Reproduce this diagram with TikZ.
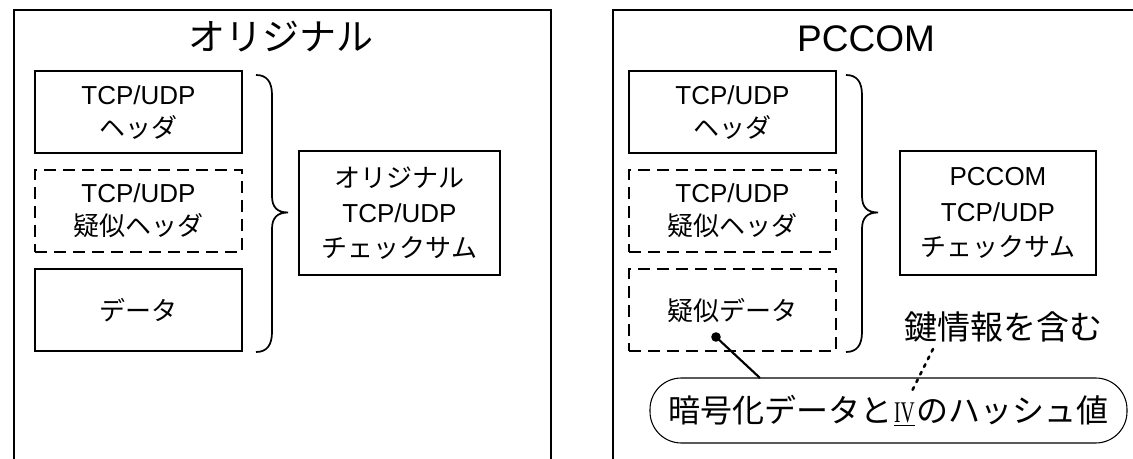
\documentclass[tikz,border=0pt]{standalone}
\usepackage{fontspec}
\setmainfont{Liberation Sans}
\newfontfamily\jp{Noto Sans CJK JP}
\newfontfamily\ivfont{Liberation Serif}
\begin{document}
\begin{tikzpicture}[x=0.75pt,y=-0.75pt,
  panel/.style={line width=1.1pt},
  partbox/.style={draw,line width=1.5pt,minimum width=155.25pt,minimum height=61.5pt,inner sep=0pt,align=center,
     font=\fontsize{19.5pt}{24.75pt}\selectfont},
  dashbox/.style={partbox,dash pattern=on 9pt off 5.25pt},
  sumbox/.style={draw,line width=1.3pt,minimum height=93pt,inner sep=0pt,align=center,
     font=\fontsize{19.5pt}{26.5pt}\selectfont},
  titletext/.style={inner sep=0pt,font=\fontsize{27.75pt}{30pt}\selectfont},
  bracepath/.style={line width=1.3pt},
  bubble/.style={draw,line width=0.8pt,rounded corners=23.5pt,minimum width=357.75pt,minimum height=48.75pt,inner sep=0pt,
     font=\fontsize{24pt}{28pt}\selectfont},
  keytext/.style={inner sep=0pt,font=\fontsize{24.75pt}{28pt}\selectfont\jp}
]
\useasboundingbox (0,0) rectangle (1133,459);
\fill[white] (0,0) rectangle (1133,459);
\clip (0,0) rectangle (1133,459);

% panels
\draw[panel] (14,480) -- (14,10) -- (551,10) -- (551,480);
\draw[panel] (613,480) -- (613,10) -- (1160,10);

% titles
\node[titletext] (t1) at (281,37) {\jp オリジナル};
\node[titletext] (t2) at (866,39) {PCCOM};

% left panel
\node[partbox] (lh) at (138.5,112.5) {TCP/UDP\\{\jp ヘッダ}};
\node[dashbox] (lp) at (138.5,211) {TCP/UDP\\{\jp 疑似ヘッダ}};
\node[partbox] (ld) at (138.5,310.5) {\jp データ};
\node[sumbox,minimum width=150.75pt] (ls) at (399.5,213) {{\jp オリジナル}\\TCP/UDP\\{\jp チェックサム}};
\draw[bracepath] (256,75) .. controls (267,75) and (272,82) .. (272,95) -- (272,196)
   .. controls (272,207) and (277,212.5) .. (288,212.5)
   .. controls (277,212.5) and (272,218) .. (272,229) -- (272,332)
   .. controls (272,345) and (267,352) .. (256,352);

% right panel
\node[partbox] (rh) at (732.5,112.5) {TCP/UDP\\{\jp ヘッダ}};
\node[dashbox] (rp) at (732.5,211) {TCP/UDP\\{\jp 疑似ヘッダ}};
\node[dashbox] (rd) at (732.5,310.5) {\jp 疑似データ};
\node[sumbox,minimum width=147pt] (rs) at (998,213) {PCCOM\\TCP/UDP\\{\jp チェックサム}};
\draw[bracepath] (846,75) .. controls (857,75) and (862,82) .. (862,95) -- (862,196)
   .. controls (862,207) and (867,212.5) .. (878,212.5)
   .. controls (867,212.5) and (862,218) .. (862,229) -- (862,332)
   .. controls (862,345) and (857,352) .. (846,352);

% bubble and annotations
\node[bubble] (bub) at (888.5,410.5) {{\jp 暗号化データと}\hspace{1.5pt}\underline{\fontsize{22.5pt}{26pt}\ivfont\scalebox{0.65}[1]{IV}}\hspace{1.5pt}{\jp のハッシュ値}};
\node[keytext] (key) at (1003,327) {鍵情報を含む};
\coordinate (dotp) at (716,337);
\coordinate (lnend) at (760,378);
\coordinate (k1) at (933,349);
\coordinate (k2) at (911,393);
\fill (dotp) circle (3.6pt);
\draw[line width=1.6pt] (dotp) -- (lnend);
\draw[line width=1.9pt,line cap=round,dash pattern=on 2.2pt off 4.2pt] (k1) -- (k2);
\end{tikzpicture}
\end{document}
